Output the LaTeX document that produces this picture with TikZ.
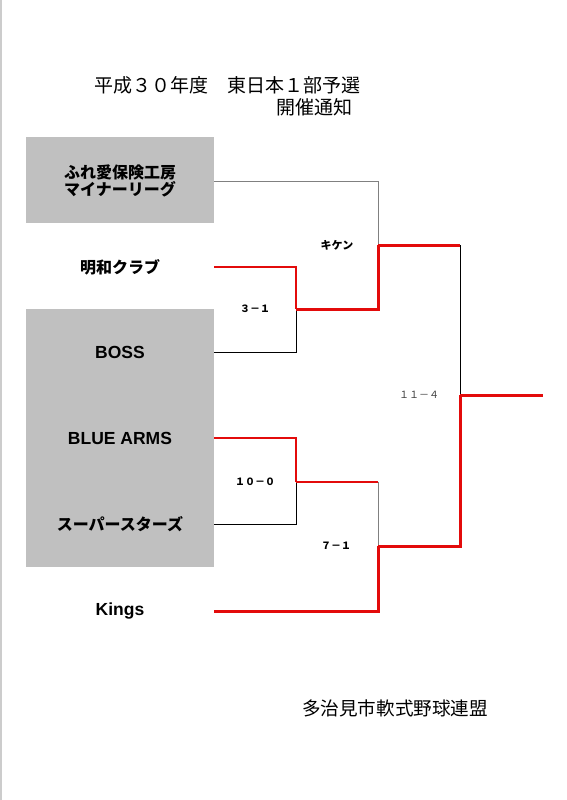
\documentclass[tikz,border=0pt]{standalone}
\usepackage{fontspec}
\setmainfont{Liberation Sans}
\newfontfamily\jp{Noto Sans CJK JP}
\definecolor{winred}{HTML}{E30B0B}
\definecolor{boxgray}{HTML}{C0C0C0}
\definecolor{byegray}{HTML}{808080}
\tikzset{
  shade/.style={fill=boxgray, draw=none, minimum width=188pt, inner sep=0pt},
  team/.style={minimum width=188pt, inner sep=0pt, align=center},
  jteam/.style={team, font=\jp\bfseries\fontsize{16}{17.5}\selectfont},
  eteam/.style={team, font=\bfseries\fontsize{17.5}{20}\selectfont},
  score/.style={inner sep=1pt, font=\jp\bfseries\fontsize{10}{11}\selectfont},
  title/.style={inner sep=0pt, font=\jp\fontsize{19}{22}\selectfont},
  win/.style={draw=winred, line width=2.3pt},
  winb/.style={draw=winred, line width=3pt},
  lose/.style={draw=black, line width=0.8pt},
  bye/.style={draw=byegray, line width=1pt}
}
\begin{document}
\begin{tikzpicture}[x=1pt, y=-1pt]
\useasboundingbox (0,0) rectangle (566,800);
\draw[draw=black!20, line width=1.5pt] (1,0) -- (1,800);
% heading
\node[title] (ttl) at (227,85) {平成３０年度　東日本１部予選};
\node[title] (ttl2) at (314.5,107) {開催通知};
% shaded groups
\node[shade, minimum height=86pt] (grp1) at (120,180) {};
\node[shade, minimum height=258pt] (grp2) at (120,438) {};
% teams
\node[jteam] (rep) at (120,181) {ふれ愛保険工房\\マイナーリーグ};
\node[jteam] (meiwa) at (120,267) {明和クラブ};
\node[eteam] (boss) at (120,352) {BOSS};
\node[eteam] (blue) at (120,438) {BLUE ARMS};
\node[jteam] (super) at (120,524) {スーパースターズ};
\node[eteam] (kings) at (120,611) {Kings};
% joints
\coordinate (j1) at (296,309);
\coordinate (j2) at (378,245);
\coordinate (j3) at (296,482);
\coordinate (j4) at (378,546);
\coordinate (j5) at (460,395);
\coordinate (champ) at (543,395);
% bracket
\draw[bye] (rep.east) -| (j2);
\draw[win] (meiwa.east) -| (j1);
\draw[lose] (boss.east) -| (j1);
\draw[winb] (j1) -| (j2);
\draw[winb] (j2) -- (j2 -| j5);
\draw[lose] (j2 -| j5) -- (j5);
\draw[win] (blue.east) -| (j3);
\draw[lose] (super.east) -| (j3);
\draw[win] (j3) -- (j3 -| j4);
\draw[bye] (j3 -| j4) -- (j4);
\draw[winb] (kings.east) -| (j4);
\draw[winb] (j4) -| (j5);
\draw[winb] (j5) -- (champ);
% results
\node[score] (s1) at (255,309) {３－１};
\node[score, font=\jp\bfseries\fontsize{11}{12}\selectfont] (s2) at (337,245) {キケン};
\node[score] (s3) at (255,482) {１０－０};
\node[score] (s4) at (336,546) {７－１};
\node[score, font=\jp\fontsize{10}{11}\selectfont, text=black!75] (s5) at (419,395) {１１－４};
% footer
\node[title, font=\jp\fontsize{18.6}{22}\selectfont] (org) at (395,708) {多治見市軟式野球連盟};
\end{tikzpicture}
\end{document}
